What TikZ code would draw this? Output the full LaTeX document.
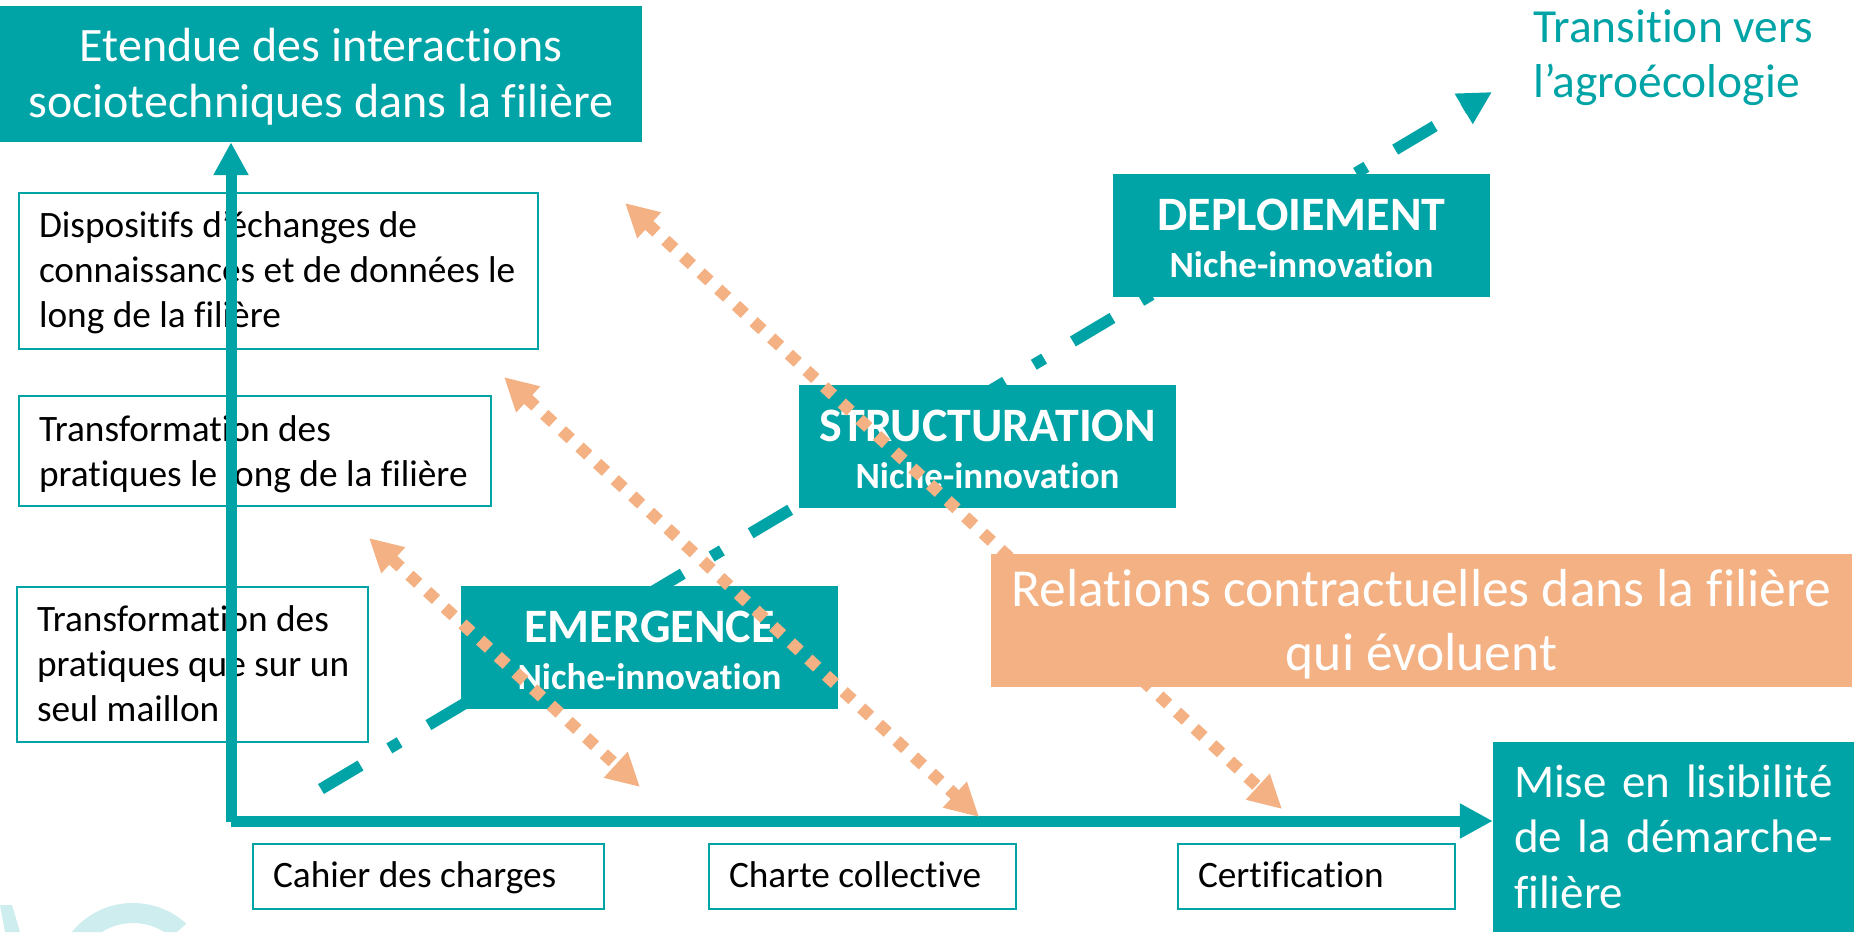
\documentclass[tikz,border=0pt]{standalone}
\usepackage{fontspec}
\setmainfont{Carlito}[Ligatures=NoCommon]
\usetikzlibrary{arrows.meta}
\definecolor{teal1}{RGB}{0,164,166}
\definecolor{orng}{RGB}{244,177,131}
\definecolor{wmark}{RGB}{205,237,238}
\newcommand{\hT}[1]{\rule{0pt}{#1pt}}
\newcommand{\dB}[1]{\rule[-#1pt]{0pt}{0pt}}
\tikzset{
  wbox/.style={draw=teal1, line width=2pt, fill=white, inner xsep=20pt, inner ysep=0pt,
    align=flush left, text=black, font=\fontsize{37.3}{45}\selectfont},
  tbox/.style={fill=teal1, text=white, inner sep=0pt, align=center},
  phase/.style={tbox, minimum width=377pt, minimum height=123pt,
    font=\fontsize{37}{47}\selectfont\bfseries},
  axisline/.style={draw=teal1, line width=11pt, -{Triangle[length=33pt,width=33pt]}},
  stageline/.style={draw=teal1, line width=11.5pt,
    dash pattern=on 46pt off 33.5pt on 12pt off 33.5pt, -{Triangle[length=33pt,width=33pt]}},
  linkline/.style={draw=orng, line width=12pt, dash pattern=on 12pt off 12pt,
    {Triangle[length=33pt,width=33pt]}-{Triangle[length=33pt,width=33pt]}},
}
\begin{document}
\begin{tikzpicture}[x=1pt,y=-1pt]
\useasboundingbox (0,0) rectangle (1854,932);
\fill[white] (0,0) rectangle (1854,932);
% faint logo in the lower left corner
\begin{scope}
  \clip (0,850) -- (187,850) -- (187,923) -- (177,932) -- (0,932) -- cycle;
  \draw[wmark, line width=20pt] (133,982) circle[radius=69];
\end{scope}
\fill[wmark] (0,905) -- (12,905) -- (20,932) -- (5,932) -- cycle;

% title (vertical axis) and Mise (horizontal axis)
\node[tbox, minimum width=642pt, minimum height=136pt, font=\fontsize{48}{56}\selectfont]
  (title) at (321,74) {\hT{45}Etendue des interactions\\sociotechniques dans la filière\dB{15}};
\node[tbox, align=left, inner xsep=21pt, text width=319pt, minimum width=361pt, minimum height=190pt,
  font=\fontsize{47}{55.5}\selectfont]
  (mise) at (1673.5,837) {\hT{40}Mise en lisibilité\\de la démarche-\\filière\dB{9}};

% level boxes on the vertical axis
\node[wbox, text width=479pt, minimum width=519pt, minimum height=156pt] (lvA) at (278.5,271)
  {\hT{32}Dispositifs d’échanges de\\\mbox{connaissances et de données le}\\long de la filière\dB{10}};
\node[wbox, text width=432pt, minimum width=472pt, minimum height=110pt] (lvB) at (255,451)
  {\hT{35}Transformation des\\\mbox{pratiques le long de la filière}\dB{10}};
\node[wbox, text width=311pt, minimum width=351pt, minimum height=155pt] (lvC) at (192.5,664.5)
  {\hT{33}Transformation des\\\mbox{pratiques que sur un}\\seul maillon\dB{10}};

% tool boxes under the horizontal axis
\node[wbox, text width=311pt, minimum width=351pt, minimum height=65pt] (cahier) at (428.5,876.5)
  {\hT{31}Cahier des charges\dB{10}};
\node[wbox, text width=267pt, minimum width=307pt, minimum height=65pt] (charte) at (862.5,876.5)
  {\hT{31}Charte collective\dB{10}};
\node[wbox, text width=237pt, minimum width=277pt, minimum height=65pt] (certif) at (1316.5,876.5)
  {\hT{31}Certification\dB{10}};

% axes
\coordinate (vbot) at (231,822);
\coordinate (hleft) at (231,821);
\draw[axisline] (vbot) -- (title.south -| vbot);
\draw[axisline] (hleft) -- (hleft -| mise.west);

% transition dash-dot arrow
\coordinate (dstart) at (321,789);
\coordinate (dend) at (1492,92);
\draw[stageline] (dstart) -- (dend);

% phases
\node[phase] (emerg) at (649.5,647.5)
  {\hT{40}{\fontsize{48}{48}\selectfont EMERGENCE}\\Niche-innovation\dB{4}};
\node[phase] (struct) at (987.5,446.5)
  {\hT{40}{\fontsize{48}{48}\selectfont STRUCTURATION}\\Niche-innovation\dB{4}};
\node[phase] (deploi) at (1301.5,235.5)
  {\hT{40}{\fontsize{48}{48}\selectfont DEPLOIEMENT}\\Niche-innovation\dB{4}};

% orange double arrows
\coordinate (o1a) at (369,538);  \coordinate (o1b) at (640,787);
\coordinate (o2a) at (504,377);  \coordinate (o2b) at (979,817);
\coordinate (o3a) at (625,203);  \coordinate (o3b) at (1282,809);
\draw[linkline] (o1a) -- (o1b);
\draw[linkline] (o2a) -- (o2b);
\draw[linkline] (o3a) -- (o3b);

% contractual relations
\node[tbox, fill=orng, minimum width=861pt, minimum height=133pt, font=\fontsize{53.5}{64}\selectfont]
  (relat) at (1421.5,620.5) {\hT{45}Relations contractuelles dans la filière\\qui évoluent\dB{10}};

% transition label
\node[anchor=north west, inner sep=0pt, text=teal1, align=left, font=\fontsize{47.5}{55}\selectfont]
  (trans) at (1533,2) {\hT{40}Transition vers\\l’agroécologie};
\end{tikzpicture}
\end{document}
